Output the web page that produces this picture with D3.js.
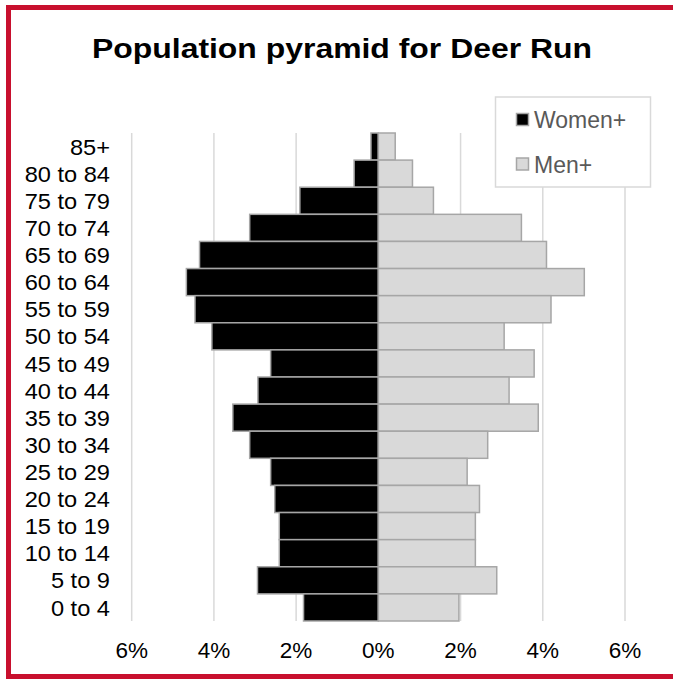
<!DOCTYPE html>
<html><head><meta charset="utf-8">
<script src="https://cdn.jsdelivr.net/npm/d3@7"></script>
<style>html,body{margin:0;padding:0;background:#fff;overflow:hidden}</style>
</head><body>
<script>
const title = "Population pyramid for Deer Run";
const ageGroups = ["85+","80 to 84","75 to 79","70 to 74","65 to 69","60 to 64","55 to 59","50 to 54","45 to 49","40 to 44","35 to 39","30 to 34","25 to 29","20 to 24","15 to 19","10 to 14","5 to 9","0 to 4"];
const women = [0.18,0.59,1.91,3.13,4.35,4.67,4.46,4.05,2.62,2.93,3.54,3.13,2.62,2.52,2.41,2.41,2.94,1.82];
const men = [0.41,0.83,1.34,3.48,4.09,5.01,4.20,3.06,3.79,3.18,3.89,2.66,2.16,2.46,2.36,2.36,2.88,1.96];
const xTicks = [-6,-4,-2,0,2,4,6];
const seriesNames = ["Women+","Men+"];

const W = 673, H = 679;
const svg = d3.select("body").append("svg").attr("width", W).attr("height", H);
const font = "Arial, 'Liberation Sans', sans-serif";

svg.append("rect").attr("x", 8.5).attr("y", 7.5).attr("width", 700).attr("height", 669)
  .attr("fill", "#fff").attr("stroke", "#C8102E").attr("stroke-width", 5);

svg.append("text").attr("x", 342).attr("y", 58).attr("text-anchor", "middle")
  .attr("font-family", font).attr("font-weight", "bold").attr("font-size", 27).attr("fill", "#000")
  .attr("textLength", 500).attr("lengthAdjust", "spacingAndGlyphs")
  .text(title);

const x = d3.scaleLinear().domain([-6, 6]).range([131.7, 625]);
const y = d3.scaleBand().domain(ageGroups).range([133, 621]).paddingInner(0);

// gridlines
svg.append("g").selectAll("line").data(xTicks).join("line")
  .attr("x1", d => x(d)).attr("x2", d => x(d)).attr("y1", 133).attr("y2", 621)
  .attr("stroke", "#d9d9d9").attr("stroke-width", 1.5);

// bars
svg.append("g").selectAll("rect").data(ageGroups).join("rect")
  .attr("x", (d, i) => x(-women[i])).attr("width", (d, i) => x(0) - x(-women[i]))
  .attr("y", d => y(d)).attr("height", y.bandwidth())
  .attr("fill", "#000").attr("stroke", "#a6a6a6").attr("stroke-width", 1.5);
svg.append("g").selectAll("rect").data(ageGroups).join("rect")
  .attr("x", x(0)).attr("width", (d, i) => x(men[i]) - x(0))
  .attr("y", d => y(d)).attr("height", y.bandwidth())
  .attr("fill", "#d9d9d9").attr("stroke", "#a6a6a6").attr("stroke-width", 1.5);

// category labels
svg.append("g").selectAll("text").data(ageGroups).join("text")
  .attr("transform", d => `translate(110,${y(d) + y.bandwidth() / 2}) scale(1.05,1)`)
  .attr("dy", "0.36em")
  .attr("text-anchor", "end").attr("font-family", font).attr("font-size", 22.5).attr("fill", "#000")
  .text(d => d);

// x tick labels
svg.append("g").selectAll("text").data(xTicks).join("text")
  .attr("x", d => x(d)).attr("y", 658).attr("text-anchor", "middle")
  .attr("font-family", font).attr("font-size", 22.5).attr("fill", "#000")
  .text(d => Math.abs(d) + "%");

// legend
const lg = svg.append("g");
lg.append("rect").attr("x", 495.5).attr("y", 97).attr("width", 155).attr("height", 90)
  .attr("fill", "#fff").attr("stroke", "#d9d9d9").attr("stroke-width", 1.5);
const legFills = ["#000", "#d9d9d9"];
seriesNames.forEach((n, i) => {
  const yy = 120 + i * 44.5;
  lg.append("rect").attr("x", 516.5).attr("y", yy - 6.5).attr("width", 12).attr("height", 12)
    .attr("fill", legFills[i]).attr("stroke", "#a6a6a6").attr("stroke-width", 1.5);
  lg.append("text").attr("x", 534).attr("y", yy).attr("dy", "0.36em")
    .attr("font-family", font).attr("font-size", 23).attr("fill", "#595959").text(n);
});
</script>
</body></html>
